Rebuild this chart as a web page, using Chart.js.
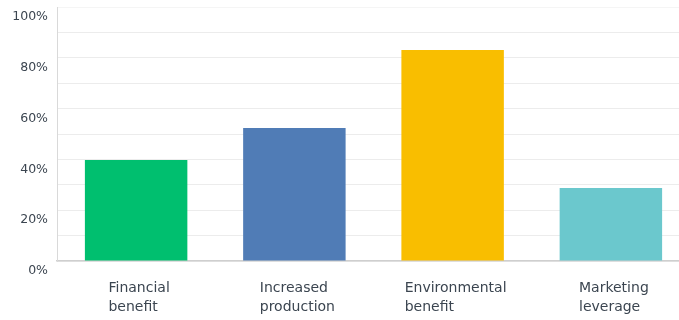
<!DOCTYPE html>
<html>
<head>
<meta charset="utf-8">
<script src="https://cdn.jsdelivr.net/npm/chart.js@4/dist/chart.umd.min.js"></script>
<style>
  html, body { margin: 0; padding: 0; background: #ffffff; overflow: hidden; }
  #wrap { position: relative; width: 690px; height: 320px; }
</style>
</head>
<body>
<div id="wrap"><canvas id="chart"></canvas></div>
<script>
// Survey answers and their share of respondents (%)
const categories = [
  ['Financial', 'benefit'],
  ['Increased', 'production'],
  ['Environmental', 'benefit'],
  ['Marketing', 'leverage']
];
const shares = [39.8, 52.4, 83.1, 28.7];
const barColors = ['#00bf6f', '#507cb6', '#f9be00', '#6bc8cd'];
const yTickLabels = ['0%', '20%', '40%', '60%', '80%', '100%'];

const TEXT = '#3b4550';
const FONT = '"DejaVu Sans", sans-serif';

// Category labels: each two-line block is centred under its bar,
// with the lines themselves left-aligned.
const blockLabels = {
  id: 'blockLabels',
  afterDraw(chart) {
    const x = chart.scales.x;
    const ctx = chart.ctx;
    ctx.save();
    ctx.font = '14px ' + FONT;
    ctx.fillStyle = TEXT;
    ctx.textAlign = 'left';
    ctx.textBaseline = 'alphabetic';
    categories.forEach((lines, i) => {
      const w = Math.max(...lines.map(l => ctx.measureText(l).width));
      const left = x.getPixelForTick(i) - w / 2 + 3;
      lines.forEach((line, j) => {
        ctx.fillText(line, left, x.top + 30.5 + j * 19.5);
      });
    });
    ctx.restore();
  }
};

new Chart(document.getElementById('chart'), {
  type: 'bar',
  data: {
    labels: categories,
    datasets: [{
      data: shares,
      backgroundColor: barColors,
      borderWidth: 0,
      categoryPercentage: 1,
      barPercentage: 0.6475
    }]
  },
  options: {
    responsive: true,
    maintainAspectRatio: false,
    animation: false,
    events: [],
    layout: { autoPadding: false, padding: { top: 7, right: 0, bottom: 0, left: 0 } },
    plugins: { legend: { display: false }, tooltip: { enabled: false } },
    scales: {
      x: {
        grid: { display: false },
        border: { display: true, color: '#cfcfcf', width: 1.5 },
        ticks: { display: false },
        afterFit(scale) { scale.height = 59; }
      },
      y: {
        min: 0,
        max: 100,
        grid: {
          drawTicks: false,
          color: c => (c.tick && c.tick.value === 100) ? '#f5f5f5' : '#ececec',
          lineWidth: 1
        },
        border: { display: true, color: '#d9d9d9', width: 1 },
        ticks: {
          stepSize: 10,
          padding: 9,
          labelOffset: 10,
          color: TEXT,
          font: { family: FONT, size: 12.5 },
          callback: v => (v % 20 === 0 ? yTickLabels[v / 20] : '')
        },
        afterFit(scale) {
          scale.width = 57;
          scale.paddingTop = 0;
          scale.paddingBottom = 0;
        }
      }
    }
  },
  plugins: [blockLabels]
});
</script>
</body>
</html>
